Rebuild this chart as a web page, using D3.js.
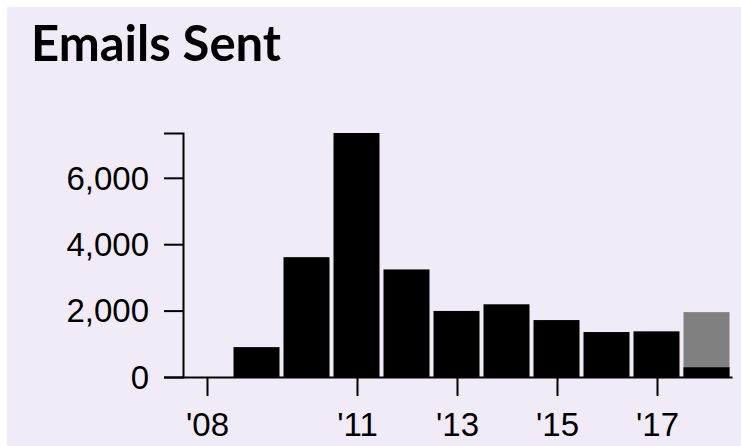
<!DOCTYPE html>
<html lang="en">
<head>
    <meta charset="UTF-8">
    <title>Emails Sent</title>
    <script src="https://d3js.org/d3.v7.min.js"></script>
    <style>
        body { margin: 0; background: #fff; overflow: hidden; }
        #panel {
            position: absolute;
            left: 7px;
            top: 7px;
            width: 734px;
            height: 439px;
            background: #f0ebf7;
        }
        svg { position: absolute; left: 0; top: 0; }
        .title { font-family: Lato, sans-serif; font-weight: 700; font-size: 49px; fill: #000; }
        .axis text { font-family: "Liberation Sans", Helvetica, Arial, sans-serif; font-size: 33px; fill: #000; }
        .axis path, .axis line { stroke: #000; stroke-width: 2px; }
    </style>
</head>
<body>
    <div id="panel"></div>
    <svg id="chart"></svg>
    <script>
        const width = 741;
        const height = 446;

        // emails sent per year (2018 partial, with projection for the full year)
        const years = [2008, 2009, 2010, 2011, 2012, 2013, 2014, 2015, 2016, 2017, 2018];
        const emails = [0, 900, 3610, 7350, 3240, 1990, 2190, 1715, 1355, 1375, 292];
        const projectedYear = 2018;
        const projectedValue = 1955;
        const xTicks = [2008, 2011, 2013, 2015, 2017];
        const yTicks = [0, 2000, 4000, 6000];

        const data = years.map((y, i) => ({ year: y, value: emails[i] }));

        const svg = d3.select("#chart")
            .attr("width", width)
            .attr("height", height);

        svg.append("text")
            .attr("class", "title")
            .attr("x", 31)
            .attr("y", 61)
            .text("Emails Sent");

        const x = d3.scaleLinear()
            .domain([2007.5, 2018.5])
            .range([182, 732]);

        const y = d3.scaleLinear()
            .domain([0, d3.max(emails)])
            .range([377, 133]);

        const barW = (x(1) - x(0)) - 4;

        // projected total for the current year, drawn behind the actual count
        svg.append("rect")
            .attr("x", x(projectedYear) - barW / 2 - 0.5)
            .attr("y", y(projectedValue))
            .attr("width", barW)
            .attr("height", y(0) - y(projectedValue))
            .attr("fill", "#808080");

        svg.selectAll(".bar")
            .data(data.filter(d => d.value > 0))
            .enter().append("rect")
            .attr("class", "bar")
            .attr("x", d => x(d.year) - barW / 2 - 0.5)
            .attr("y", d => y(d.value))
            .attr("width", barW)
            .attr("height", d => y(0) - y(d.value))
            .attr("fill", "#000");

        svg.append("g")
            .attr("class", "axis")
            .attr("transform", `translate(${x.range()[0] + 1},0)`)
            .call(d3.axisLeft(y)
                .tickValues(yTicks)
                .tickFormat(d3.format(","))
                .tickSize(19)
                .tickPadding(15))
            .call(g => g.selectAll(".tick text").attr("dy", "0.34em"));

        svg.append("g")
            .attr("class", "axis")
            .attr("transform", `translate(0,${y(0)})`)
            .call(d3.axisBottom(x)
                .tickValues(xTicks)
                .tickFormat(d => "'" + String(d).slice(2))
                .tickSize(19)
                .tickSizeOuter(0)
                .tickPadding(17));
    </script>
</body>
</html>
